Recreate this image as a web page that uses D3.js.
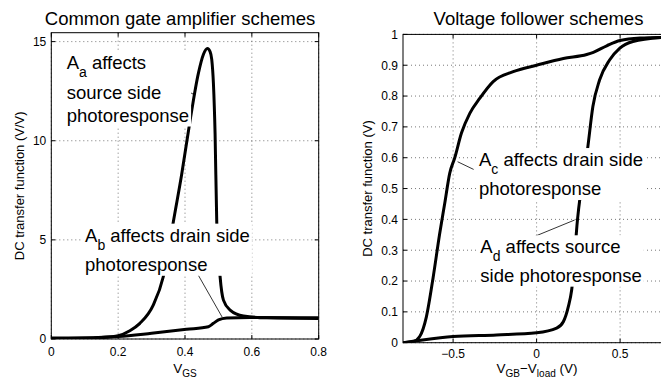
<!DOCTYPE html>
<html>
<head>
<meta charset="utf-8">
<script src="https://cdn.jsdelivr.net/npm/d3@7"></script>
<style>
  body { margin: 0; background: #fff; }
  svg { display: block; font-family: "Liberation Sans", Arial, Helvetica, sans-serif; }
  .grid line { stroke: #555; stroke-dasharray: 1,3; stroke-width: 0.8; }
  .curve { fill: none; stroke: #000; stroke-width: 3; stroke-linejoin: round; }
  .leader { stroke: #000; stroke-width: 0.8; }
  .tick-label { font-size: 12px; fill: #000; }
</style>
</head>
<body>
<div id="chart"></div>
<script>
// ---- data ----
const cgTicksX = [0, 0.2, 0.4, 0.6, 0.8];
const cgTicksY = [0, 5, 10, 15];

// A_a : source side photoresponse (common gate)
const cgSourceSide = [
  [0, 0.05], [0.1, 0.05], [0.15, 0.08], [0.2, 0.17], [0.235, 0.42], [0.265, 0.79],
  [0.305, 1.71], [0.335, 3.14], [0.35, 4.4], [0.365, 5.9], [0.39, 8.3], [0.415, 11.0],
  [0.44, 13.4], [0.455, 14.35], [0.467, 14.65], [0.475, 14.5], [0.48, 14.1],
  [0.485, 12.9], [0.49, 10.35], [0.495, 5.9], [0.505, 3.14], [0.515, 1.96],
  [0.535, 1.46], [0.575, 1.16], [0.645, 1.07], [0.8, 1.04]
];
// A_b : drain side photoresponse (common gate)
const cgDrainSide = [
  [0, 0.03], [0.05, 0.03], [0.2, 0.12], [0.3, 0.29], [0.405, 0.49], [0.47, 0.62],
  [0.485, 0.79], [0.5, 0.96], [0.525, 1.06], [0.595, 1.09], [0.8, 1.07]
];

const vfTicksX = [-0.5, 0, 0.5];
const vfTicksY = [0, 0.1, 0.2, 0.3, 0.4, 0.5, 0.6, 0.7, 0.8, 0.9, 1];

// A_c : drain side photoresponse (voltage follower)
const vfDrainSide = [
  [-0.8, 0], [-0.74, 0.003], [-0.7, 0.02], [-0.66, 0.084], [-0.62, 0.21], [-0.58, 0.355],
  [-0.55, 0.452], [-0.52, 0.55], [-0.49, 0.6], [-0.45, 0.68], [-0.4, 0.744],
  [-0.34, 0.793], [-0.26, 0.847], [-0.14, 0.879], [0, 0.9], [0.16, 0.922],
  [0.3, 0.935], [0.34, 0.942], [0.42, 0.963], [0.5, 0.98], [0.62, 0.988], [0.75, 0.99]
];
// A_d : source side photoresponse (voltage follower)
const vfSourceSide = [
  [-0.8, 0], [-0.72, 0.006], [-0.5, 0.02], [-0.24, 0.025], [0, 0.032], [0.12, 0.047],
  [0.16, 0.068], [0.19, 0.117], [0.21, 0.171], [0.245, 0.4], [0.307, 0.636],
  [0.337, 0.766], [0.377, 0.852], [0.437, 0.917], [0.497, 0.955], [0.577, 0.977],
  [0.75, 0.99]
];

// annotations: text lines (baseline in data units) and leader lines
const cgNotes = [
  { x: 0.046, lines: [
      { y: 13.62, parts: [['A'], ['a', 1], [' affects']] },
      { y: 12.10, parts: [['source side']] },
      { y: 10.97, parts: [['photoresponse']] } ],
    leader: [[0.325, 13.26], [0.43, 12.3]] },
  { x: 0.101, lines: [
      { y: 4.91, parts: [['A'], ['b', 1], [' affects drain side']] },
      { y: 3.44, parts: [['photoresponse']] } ],
    leader: [[0.436, 3.33], [0.511, 1.11]] }
];
const vfNotes = [
  { x: -0.345, lines: [
      { y: 0.573, parts: [['A'], ['c', 1], [' affects drain side']] },
      { y: 0.479, parts: [['photoresponse']] } ],
    leader: [[-0.473, 0.587], [-0.377, 0.562]] },
  { x: -0.337, lines: [
      { y: 0.290, parts: [['A'], ['d', 1], [' affects source']] },
      { y: 0.198, parts: [['side photoresponse']] } ],
    leader: [[-0.006, 0.346], [0.228, 0.398]] }
];

const svg = d3.select('#chart').append('svg')
  .attr('width', 661)
  .attr('height', 381);

function drawPanel(cfg) {
  const x = d3.scaleLinear().domain(cfg.xDomain).range([cfg.left, cfg.right]);
  const y = d3.scaleLinear().domain(cfg.yDomain).range([cfg.bottom, cfg.top]);
  const g = svg.append('g');

  g.append('clipPath').attr('id', cfg.id + '-clip')
    .append('rect')
    .attr('x', cfg.left).attr('y', cfg.top)
    .attr('width', cfg.right - cfg.left).attr('height', cfg.bottom - cfg.top);

  // dotted grid
  const grid = g.append('g').attr('class', 'grid');
  grid.selectAll('.gx').data(cfg.ticksX).join('line')
    .attr('x1', d => x(d)).attr('x2', d => x(d))
    .attr('y1', cfg.top).attr('y2', cfg.bottom);
  grid.selectAll('.gy').data(cfg.ticksY).join('line')
    .attr('class', 'gy')
    .attr('x1', cfg.left).attr('x2', cfg.right)
    .attr('y1', d => y(d)).attr('y2', d => y(d));

  // curves
  const line = d3.line().x(d => x(d[0])).y(d => y(d[1])).curve(d3.curveMonotoneX);
  g.append('g').attr('clip-path', `url(#${cfg.id}-clip)`)
    .selectAll('.curve').data(cfg.series).join('path')
    .attr('class', 'curve')
    .attr('d', line);

  // box
  g.append('rect')
    .attr('x', cfg.left).attr('y', cfg.top)
    .attr('width', cfg.right - cfg.left).attr('height', cfg.bottom - cfg.top)
    .attr('fill', 'none').attr('stroke', '#000').attr('stroke-width', 1);

  // inward ticks on all sides
  const tl = 4;
  const ticks = g.append('g').attr('stroke', '#000').attr('stroke-width', 1);
  cfg.ticksX.forEach(d => {
    ticks.append('line').attr('x1', x(d)).attr('x2', x(d)).attr('y1', cfg.bottom).attr('y2', cfg.bottom - tl);
    ticks.append('line').attr('x1', x(d)).attr('x2', x(d)).attr('y1', cfg.top).attr('y2', cfg.top + tl);
  });
  cfg.ticksY.forEach(d => {
    ticks.append('line').attr('x1', cfg.left).attr('x2', cfg.left + tl).attr('y1', y(d)).attr('y2', y(d));
    ticks.append('line').attr('x1', cfg.right).attr('x2', cfg.right - tl).attr('y1', y(d)).attr('y2', y(d));
  });

  g.selectAll('.xlab').data(cfg.ticksX).join('text')
    .attr('class', 'tick-label')
    .attr('x', d => x(d)).attr('y', cfg.bottom + cfg.tickGap)
    .attr('text-anchor', 'middle')
    .text(cfg.fmtX);
  g.selectAll('.ylab').data(cfg.ticksY).join('text')
    .attr('class', 'tick-label')
    .attr('x', cfg.left - 5).attr('y', d => y(d)).attr('dy', '0.36em')
    .attr('text-anchor', 'end')
    .text(cfg.fmtY);

  // title
  g.append('text')
    .attr('x', cfg.titleX).attr('y', 25)
    .attr('text-anchor', 'middle')
    .attr('font-size', 18.5)
    .text(cfg.title);

  // y label
  g.append('text')
    .attr('transform', `translate(${cfg.ylabelX},${(cfg.top + cfg.bottom) / 2}) rotate(-90)`)
    .attr('text-anchor', 'middle')
    .attr('font-size', 13)
    .text(cfg.ylabel);

  // x label with subscripts
  const xl = g.append('text')
    .attr('x', (cfg.left + Math.min(cfg.right, 661)) / 2 + cfg.xlabelShift).attr('y', 373)
    .attr('text-anchor', 'middle')
    .attr('font-size', 13.5);
  cfg.xlabel.forEach(p => {
    const t = xl.append('tspan').text(p[0]);
    if (p[1]) t.attr('font-size', 10).attr('dy', 4);
    else t.attr('dy', p[2] ? -4 : 0);
  });

  // annotations
  cfg.notes.forEach(n => {
    g.append('line').attr('class', 'leader')
      .attr('x1', x(n.leader[0][0])).attr('y1', y(n.leader[0][1]))
      .attr('x2', x(n.leader[1][0])).attr('y2', y(n.leader[1][1]));
    const ng = g.append('g');
    const bg = ng.append('rect').attr('fill', '#fff');
    n.lines.forEach(l => {
      const t = ng.append('text')
        .attr('x', x(n.x)).attr('y', y(l.y))
        .attr('font-size', 18.5);
      let shifted = false;
      l.parts.forEach(p => {
        const s = t.append('tspan').text(p[0]);
        if (p[1]) { s.attr('font-size', 14).attr('dy', 8); shifted = true; }
        else if (shifted) { s.attr('dy', -8); shifted = false; }
      });
    });
    const bb = ng.node().getBBox();
    bg.attr('x', bb.x - 2).attr('y', bb.y - 1)
      .attr('width', bb.width + 4).attr('height', bb.height + 2);
  });
}

drawPanel({
  id: 'cg', left: 51.3, right: 318.7, top: 32.7, bottom: 339,
  xDomain: [0, 0.8], yDomain: [0, 15.45],
  ticksX: cgTicksX, ticksY: cgTicksY, tickGap: 16.5,
  fmtX: d => d === 0 ? '0' : d3.format('.1f')(d), fmtY: d => d,
  series: [cgSourceSide, cgDrainSide],
  title: 'Common gate amplifier schemes', titleX: 180,
  ylabel: 'DC transfer function (V/V)', ylabelX: 24,
  xlabel: [['V'], ['GS', 1]], xlabelShift: 0,
  notes: cgNotes
});

drawPanel({
  id: 'vf', left: 403, right: 670.2, top: 34.4, bottom: 342.7,
  xDomain: [-0.8, 0.8], yDomain: [0, 1],
  ticksX: vfTicksX, ticksY: vfTicksY, tickGap: 15,
  fmtX: d => d === 0 ? '0' : d3.format('.1f')(d), fmtY: d => d,
  series: [vfDrainSide, vfSourceSide],
  title: 'Voltage follower schemes', titleX: 538.5,
  ylabel: 'DC transfer function (V)', ylabelX: 372,
  xlabel: [['V'], ['GB', 1], ['\u2212V', 0, 1], ['load', 1], [' (V)', 0, 1]], xlabelShift: 5,
  notes: vfNotes
});
</script>
</body>
</html>
